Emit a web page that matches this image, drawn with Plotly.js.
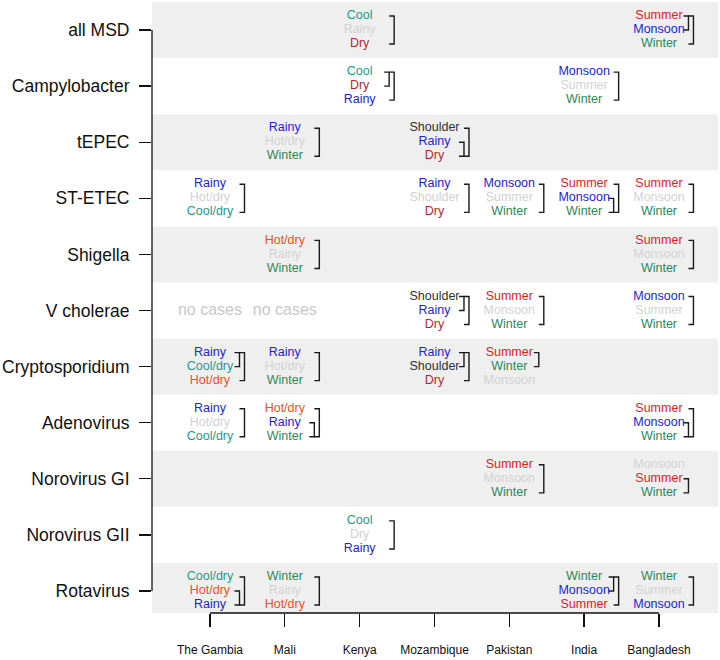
<!DOCTYPE html>
<html>
<head>
<meta charset="utf-8">
<script src="https://cdn.plot.ly/plotly-3.0.1.min.js"></script>
<style>html,body{margin:0;padding:0;background:#fff}#chart{width:720px;height:660px}</style>
</head>
<body>
<div id="chart"></div>
<script>
// ---- data ----
const pathogens = ["all MSD","Campylobacter","tEPEC","ST-ETEC","Shigella","V cholerae","Cryptosporidium","Adenovirus","Norovirus GI","Norovirus GII","Rotavirus"];
const countries = ["The Gambia","Mali","Kenya","Mozambique","Pakistan","India","Bangladesh"];

const cellPathogen = ["all MSD","all MSD","Campylobacter","Campylobacter","tEPEC","tEPEC",
  "ST-ETEC","ST-ETEC","ST-ETEC","ST-ETEC","ST-ETEC","Shigella","Shigella",
  "V cholerae","V cholerae","V cholerae","Cryptosporidium","Cryptosporidium","Cryptosporidium","Cryptosporidium",
  "Adenovirus","Adenovirus","Adenovirus","Norovirus GI","Norovirus GI","Norovirus GII",
  "Rotavirus","Rotavirus","Rotavirus","Rotavirus"];
const cellCountry = ["Kenya","Bangladesh","Kenya","India","Mali","Mozambique",
  "The Gambia","Mozambique","Pakistan","India","Bangladesh","Mali","Bangladesh",
  "Mozambique","Pakistan","Bangladesh","The Gambia","Mali","Mozambique","Pakistan",
  "The Gambia","Mali","Bangladesh","Pakistan","Bangladesh","Kenya",
  "The Gambia","Mali","India","Bangladesh"];
const cellSeasons = [
  ["Cool","Rainy","Dry"],["Summer","Monsoon","Winter"],
  ["Cool","Dry","Rainy"],["Monsoon","Summer","Winter"],
  ["Rainy","Hot/dry","Winter"],["Shoulder","Rainy","Dry"],
  ["Rainy","Hot/dry","Cool/dry"],["Rainy","Shoulder","Dry"],["Monsoon","Summer","Winter"],["Summer","Monsoon","Winter"],["Summer","Monsoon","Winter"],
  ["Hot/dry","Rainy","Winter"],["Summer","Monsoon","Winter"],
  ["Shoulder","Rainy","Dry"],["Summer","Monsoon","Winter"],["Monsoon","Summer","Winter"],
  ["Rainy","Cool/dry","Hot/dry"],["Rainy","Hot/dry","Winter"],["Rainy","Shoulder","Dry"],["Summer","Winter","Monsoon"],
  ["Rainy","Hot/dry","Cool/dry"],["Hot/dry","Rainy","Winter"],["Summer","Monsoon","Winter"],
  ["Summer","Monsoon","Winter"],["Monsoon","Summer","Winter"],
  ["Cool","Dry","Rainy"],
  ["Cool/dry","Hot/dry","Rainy"],["Winter","Rainy","Hot/dry"],["Winter","Monsoon","Summer"],["Winter","Summer","Monsoon"]
];
// index of the greyed-out (non-distinguished) season in each cell, -1 = none
const cellMuted = [1,-1,-1,1,1,-1,1,1,1,-1,1,1,1,-1,1,1,-1,1,-1,2,1,-1,-1,1,0,1,-1,1,-1,1];
// brackets joining season positions (0 = top, 2 = bottom)
const cellBrackets = [
  [[0,2]],[[0,1],[0,2]],
  [[0,1],[0,2]],[[0,2]],
  [[0,2]],[[1,2],[0,2]],
  [[0,2]],[[0,2]],[[0,2]],[[1,2],[0,2]],[[0,2]],
  [[0,2]],[[0,2]],
  [[0,1],[0,2]],[[0,2]],[[0,2]],
  [[0,1],[0,2]],[[0,2]],[[0,1],[0,2]],[[0,1]],
  [[0,2]],[[1,2],[0,2]],[[1,2],[0,2]],
  [[0,2]],[[1,2]],
  [[0,2]],
  [[1,2],[0,2]],[[0,2]],[[0,1],[0,2]],[[0,2]]
];
const noCasePathogen = ["V cholerae","V cholerae"];
const noCaseCountry = ["The Gambia","Mali"];
const noCaseText = "no cases";

// ---- styles ----
const seasonColor = {
  "Cool":"#1c9a8c","Cool/dry":"#1c9a8c","Rainy":"#2323d2","Monsoon":"#2323d2",
  "Dry":"#b3292b","Summer":"#e8191f","Winter":"#2e8856","Hot/dry":"#f04f22","Shoulder":"#303030"
};
const mutedColor = "#d2d2d2";
const FONT = "Liberation Sans, Arial, Helvetica, sans-serif";
const pxPerX = 74.83;       // pixel width of one country step
const stackStep = 0.25;     // vertical spacing between stacked labels (rows)
const armLen = 5 / pxPerX;
const fullOff = 34.5 / pxPerX;
const partOff = 29.5 / pxPerX;
const yRange = [10.392, -0.5];
const xRange = [-0.775, 6.789];

// ---- build traces ----
const tx = [], ty = [], tt = [], tc = [];
const bx = [], by = [];
cellSeasons.forEach((seasons, i) => {
  const r = pathogens.indexOf(cellPathogen[i]);
  const c = countries.indexOf(cellCountry[i]);
  seasons.forEach((s, k) => {
    tx.push(c); ty.push(r + (k - 1) * stackStep); tt.push(s);
    tc.push(k === cellMuted[i] ? mutedColor : seasonColor[s]);
  });
  cellBrackets[i].forEach(b => {
    const full = (b[0] === 0 && b[1] === 2);
    const xv = c + (full ? fullOff : partOff);
    const y0 = r + (b[0] - 1) * stackStep, y1 = r + (b[1] - 1) * stackStep;
    bx.push(xv - armLen, xv, xv, xv - armLen, null);
    by.push(y0, y0, y1, y1, null);
  });
});

const traces = [
  {type:"scatter", mode:"lines", x:bx, y:by, line:{color:"#1a1a1a", width:1.4}, hoverinfo:"skip", connectgaps:false},
  {type:"scatter", mode:"text", x:tx, y:ty, text:tt, textposition:"middle center",
   textfont:{family:FONT, size:12.5, color:tc}, hoverinfo:"skip"},
  {type:"scatter", mode:"text", x:noCaseCountry.map(c => countries.indexOf(c)),
   y:noCasePathogen.map(p => pathogens.indexOf(p)), text:noCaseCountry.map(() => noCaseText),
   textposition:"middle center", textfont:{family:FONT, size:16, color:"#c8c8c8"}, hoverinfo:"skip"}
];

// ---- background bands and axis lines ----
const shapes = [];
pathogens.forEach((p, i) => {
  if (i % 2 === 0) {
    shapes.push({type:"rect", xref:"paper", yref:"y", x0:0, x1:1,
      y0:Math.max(i - 0.5, yRange[1]), y1:Math.min(i + 0.5, yRange[0]),
      fillcolor:"#efefef", line:{width:0}, layer:"below"});
  }
});
shapes.push({type:"line", xref:"paper", yref:"y", x0:0, x1:0, y0:0, y1:pathogens.length - 1,
  line:{color:"#111", width:1.3}, layer:"above"});
shapes.push({type:"line", xref:"x", yref:"paper", x0:0, x1:countries.length - 1, y0:0, y1:0,
  line:{color:"#111", width:1.3}, layer:"above"});

const layout = {
  width:720, height:660,
  margin:{l:152, r:2, t:2, b:47, pad:0},
  paper_bgcolor:"#fff", plot_bgcolor:"#fff",
  showlegend:false,
  font:{family:FONT, color:"#111"},
  xaxis:{range:xRange, tickvals:countries.map((c,i)=>i), ticktext:countries,
    showgrid:false, zeroline:false, showline:false, ticks:"outside", ticklen:13,
    tickwidth:1.3, tickcolor:"#111", tickfont:{family:FONT, size:12, color:"#111"},
    ticklabelstandoff:13, fixedrange:true},
  yaxis:{range:yRange, tickvals:pathogens.map((p,i)=>i), ticktext:pathogens,
    showgrid:false, zeroline:false, showline:false, ticks:"outside", ticklen:12,
    tickwidth:1.3, tickcolor:"#111", tickfont:{family:FONT, size:17.5, color:"#111"},
    ticklabelstandoff:6, fixedrange:true},
  shapes:shapes
};

Plotly.newPlot("chart", traces, layout, {displayModeBar:false, staticPlot:true});
</script>
</body>
</html>
